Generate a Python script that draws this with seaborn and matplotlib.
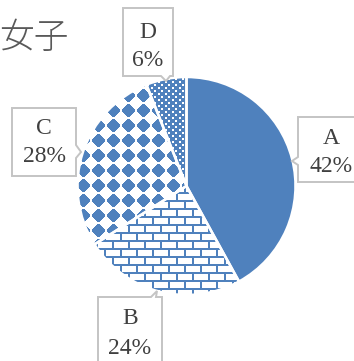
import numpy as np
import matplotlib
matplotlib.use("Agg")
import matplotlib.pyplot as plt
from matplotlib.colors import to_rgb
from matplotlib.patches import Polygon, Wedge
import seaborn as sns

# data
categories = ["A", "B", "C", "D"]
shares = [42, 24, 28, 6]
title = "女子"

sns.set_theme(style="white")
plt.rcParams["font.family"] = ["Liberation Serif", "DejaVu Serif"]

W, H = 354, 361
CX, CY, R = 186.5, 186.0, 109.0
BLUE = "#4F81BD"
GREY_TXT = "#404040"


def px(x, y):
    """pixel (from top-left) -> data coords of the pie axes"""
    return (x - CX) / R, (CY - y) / R


# fill patterns, pixel aligned
yy, xx = np.mgrid[0:H, 0:W]
brick = (yy % 8 < 2) | (((xx + ((yy // 8) % 2) * 8) % 16) < 2)
ddx = (xx - 8 + 7) % 15 - 7
ddy = (yy - 5 + 7) % 15 - 7
diamond = (np.abs(ddx) + np.abs(ddy) <= 7) & (np.maximum(np.abs(ddx), np.abs(ddy)) <= 6)
dots = ((xx % 7 < 2) & (yy % 6 < 2)) | (((xx + 3) % 7 < 2) & ((yy + 3) % 6 < 2))
patterns = [None, brick, diamond, ~dots]


def texture(mask):
    img = np.ones((H, W, 4))
    img[mask, :3] = to_rgb(BLUE)
    return img


fig = plt.figure(figsize=(W / 100, H / 100), dpi=100)
ax = fig.add_axes([0, 0, 1, 1])
ax.axis("off")

wedges, _ = ax.pie(shares, startangle=90, counterclock=False,
                   colors=[BLUE, "white", "white", "white"],
                   wedgeprops=dict(linewidth=0))

x0, ytop = px(0, 0)
x1, ybot = px(W, H)
for w, mask in zip(wedges, patterns):
    if mask is not None:
        im = ax.imshow(texture(mask), extent=(x0, x1, ybot, ytop), origin="upper",
                       interpolation="nearest", zorder=2)
        im.set_clip_path(w)
    ax.add_patch(Wedge(w.center, w.r, w.theta1, w.theta2, fill=False,
                       edgecolor="white", linewidth=1.8, zorder=3))

# callout boxes (pixel outlines) and label positions
boxes = [
    [(298, 117), (362, 117), (362, 182), (298, 182), (298, 165), (292, 161), (298, 157)],
    [(98, 297), (151, 297), (157, 291), (156, 297), (162, 297), (162, 372), (98, 372)],
    [(12, 108), (76, 108), (76, 145), (81, 152), (76, 158), (76, 176), (12, 176)],
    [(123, 8), (173, 8), (173, 76), (170, 76), (166, 81), (161, 76), (123, 76)],
]
label_xy = [(331, 138, 167), (130, 318, 348), (44, 128, 157), (148, 32, 60)]

for cat, val, box, (lx, ly1, ly2) in zip(categories, shares, boxes, label_xy):
    ax.add_patch(Polygon([px(*p) for p in box], closed=True, facecolor="white",
                         edgecolor="#C4C4C4", linewidth=1.4, zorder=4))
    ax.text(*px(lx, ly1), cat, ha="center", va="center", fontsize=17,
            color=GREY_TXT, zorder=5)
    ax.text(*px(lx, ly2), f"{val}%", ha="center", va="center", fontsize=17,
            color=GREY_TXT, zorder=5)

ax.text(*px(-1, 38), title, ha="left", va="center", fontsize=25, color="#595959",
        fontweight="light", family=["Noto Sans CJK JP", "DejaVu Sans"])

ax.set_aspect("auto")
ax.set_xlim(x0, x1)
ax.set_ylim(ybot, ytop)

fig.savefig("out.png", dpi=100)
plt.close(fig)
